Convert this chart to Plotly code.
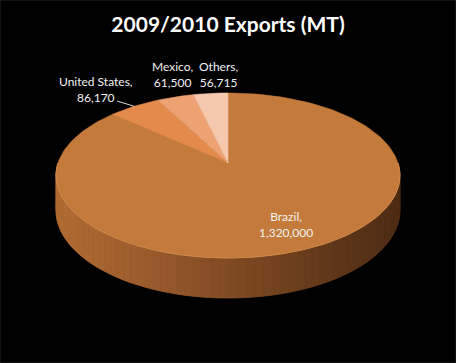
import math
import plotly.graph_objects as go

# ---- data ----
categories = ["Brazil", "United States", "Mexico", "Others"]
values = [1320000, 86170, 61500, 56715]
value_labels = ["1,320,000", "86,170", "61,500", "56,715"]
title_text = "2009/2010 Exports (MT)"

# ---- style ----
top_colors = ["#C37A3A", "#E48A4A", "#EEA273", "#F6C8AE"]
W, H = 456, 363
CX, CY = 228, 163       # apex of the pie (pixels)
B, A = 170, 80.6        # horizontal / vertical semi axes
K = -0.1515             # perspective factor
DEPTH = 34              # thickness of the pie


def proj(theta_deg, r=1.0, depth=0.0):
    t = math.radians(theta_deg)
    u, v = r * math.sin(t), -r * math.cos(t)
    w = 1 + K * v
    return CX + B * u / w, CY + A * v / w + depth / w


def lerp_color(c1, c2, f):
    a = [int(c1[i:i + 2], 16) for i in (1, 3, 5)]
    b = [int(c2[i:i + 2], 16) for i in (1, 3, 5)]
    return "#%02X%02X%02X" % tuple(round(a[i] + (b[i] - a[i]) * f) for i in range(3))


fig = go.Figure()

# ---- side of the pie (front half, gradient strips) ----
grad = [(0.0, "#B26C33"), (0.35, "#91552A"), (0.6, "#764420"), (1.0, "#4C2B14")]


def side_color(x):
    f = (x - (CX - B)) / (2 * B)
    f = min(max(f, 0), 1)
    for i in range(len(grad) - 1):
        if grad[i][0] <= f <= grad[i + 1][0]:
            g = (f - grad[i][0]) / (grad[i + 1][0] - grad[i][0])
            return lerp_color(grad[i][1], grad[i + 1][1], g)
    return grad[-1][1]


# base silhouette
ths = [90 + i * 180 / 120 for i in range(121)]
xs = [proj(t)[0] for t in ths] + [proj(t, depth=DEPTH)[0] for t in reversed(ths)]
ys = [proj(t)[1] for t in ths] + [proj(t, depth=DEPTH)[1] for t in reversed(ths)]
fig.add_trace(go.Scatter(x=xs, y=ys, fill="toself", mode="lines",
                         fillcolor="#7A4621", line=dict(width=0, color="#7A4621"),
                         hoverinfo="skip", showlegend=False))
N = 72
for i in range(N):
    t0 = 90 + i * 180 / N
    t1 = 90 + (i + 1) * 180 / N
    sub = [t0 + (t1 - t0) * j / 4 for j in range(5)]
    px = [proj(t)[0] for t in sub] + [proj(t, depth=DEPTH)[0] for t in reversed(sub)]
    py = [proj(t)[1] for t in sub] + [proj(t, depth=DEPTH)[1] for t in reversed(sub)]
    col = side_color(sum(px) / len(px))
    fig.add_trace(go.Scatter(x=px, y=py, fill="toself", mode="lines",
                             fillcolor=col, line=dict(width=0.8, color=col),
                             hoverinfo="skip", showlegend=False))

# ---- top face slices ----
total = sum(values)
start = 0.0
mids = []
for cat, val, col in zip(categories, values, top_colors):
    span = 360.0 * val / total
    end = start + span
    n = max(4, int(span / 1.5))
    pts = [proj(start + span * j / n) for j in range(n + 1)]
    xs = [CX] + [p[0] for p in pts] + [CX]
    ys = [CY] + [p[1] for p in pts] + [CY]
    fig.add_trace(go.Scatter(x=xs, y=ys, fill="toself", mode="lines",
                             fillcolor=col, line=dict(width=0.6, color=col),
                             hoverinfo="skip", showlegend=False, name=cat))
    mids.append(start + span / 2)
    start = end

# subtle highlight at the front rim of the top face
rim = [proj(90 + i * 180 / 120) for i in range(121)]
fig.add_trace(go.Scatter(x=[p[0] for p in rim], y=[p[1] for p in rim], mode="lines",
                         line=dict(width=1, color="#CF8A4C"),
                         hoverinfo="skip", showlegend=False))

# ---- labels ----
font = dict(family="Lato, Calibri, sans-serif", size=12, color="#F2F2F2")
bx, by = proj(mids[0], r=0.75)
fig.add_annotation(x=bx, y=by, text=f"{categories[0]},<br>{value_labels[0]}",
                   showarrow=False, font=font, align="center")

# leader line for United States
ux, uy = proj(mids[1])
fig.add_trace(go.Scatter(x=[117, ux], y=[101, uy], mode="lines",
                         line=dict(width=1, color="#D9D9D9"),
                         hoverinfo="skip", showlegend=False))
outside_pos = {1: (96, 89.5), 2: (172, 74.5), 3: (218, 74.5)}
for i, (lx, ly) in outside_pos.items():
    fig.add_annotation(x=lx, y=ly, text=f"{categories[i]},<br>{value_labels[i]}",
                       showarrow=False, font=font, align="center")

fig.update_layout(
    width=W, height=H,
    margin=dict(l=0, r=0, t=0, b=0),
    paper_bgcolor="#000000", plot_bgcolor="#000000",
    xaxis=dict(range=[0, W], visible=False, fixedrange=True),
    yaxis=dict(range=[H, 0], visible=False, fixedrange=True),
    title=dict(text=f"<b>{title_text}</b>", x=0.5, xanchor="center",
               y=1 - 25 / H, yanchor="middle",
               font=dict(family="Lato, Calibri, sans-serif", size=21, color="#FFFFFF")),
    shapes=[dict(type="rect", xref="paper", yref="paper", x0=0, y0=0, x1=1, y1=1,
                 line=dict(color="#262626", width=1))],
)

fig.write_html("out.html", config={"displayModeBar": False},
               post_script="document.body.style.margin='0';document.body.style.overflow='hidden';")
